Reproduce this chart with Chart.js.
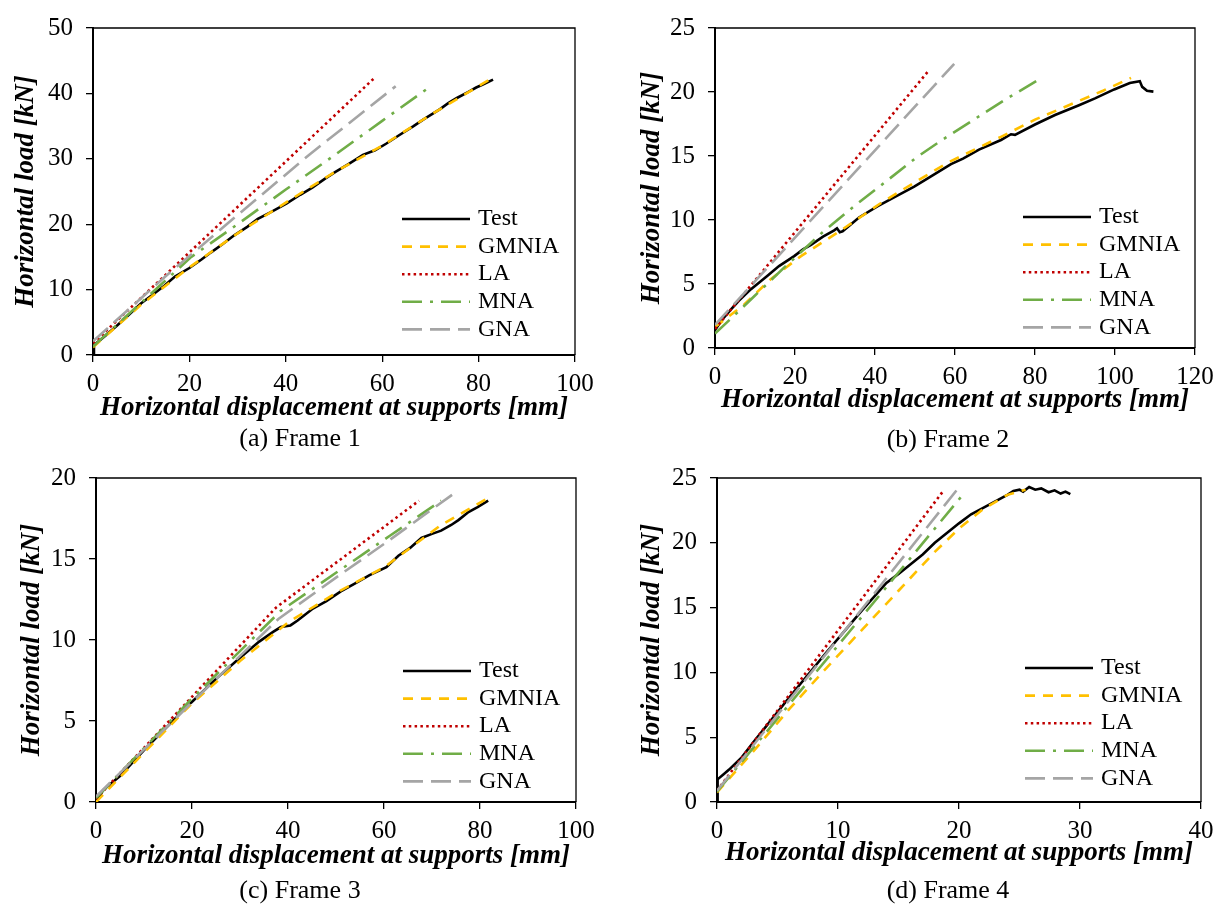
<!DOCTYPE html>
<html>
<head>
<meta charset="utf-8">
<script src="https://cdn.jsdelivr.net/npm/chart.js@4.4.1/dist/chart.umd.min.js"></script>
<style>
  body { margin: 0; background: #fff; width: 1221px; height: 905px; position: relative; overflow: hidden;
         font-family: 'Liberation Serif', 'Times New Roman', serif; }
  .panel { position: absolute; }
  .caption { position: absolute; font-size: 26px; color: #000; white-space: nowrap; transform: translate(-50%, -50%); }
</style>
</head>
<body>
<div class="panel" style="left:0;top:0;width:610px;height:450px"><canvas id="frame1"></canvas></div>
<div class="panel" style="left:610px;top:0;width:611px;height:450px"><canvas id="frame2"></canvas></div>
<div class="panel" style="left:0;top:450px;width:610px;height:455px"><canvas id="frame3"></canvas></div>
<div class="panel" style="left:610px;top:450px;width:611px;height:455px"><canvas id="frame4"></canvas></div>
<div class="caption" style="left:300px;top:438px">(a) Frame 1</div>
<div class="caption" style="left:948px;top:439px">(b) Frame 2</div>
<div class="caption" style="left:300px;top:890px">(c) Frame 3</div>
<div class="caption" style="left:948px;top:890px">(d) Frame 4</div>

<script>
/* ─────────────────────────────────────────────
   Load–displacement curves, Frames 1–4
   [x = displacement mm, y = load kN]
───────────────────────────────────────────── */

const SERIES_LABELS = ['Test', 'GMNIA', 'LA', 'MNA', 'GNA'];
const X_TITLE = 'Horizontal displacement at supports [mm]';
const Y_TITLE = 'Horizontal load [kN]';

// ── Frame 1 ─────────────────────────────────
const F1_TEST  = [[0,0],[0.2,1.5],[2.5,2.9],[5,4.5],[7.5,6.2],[10,7.9],[12.5,9.3],[14.8,10.6],[17,12.0],
                  [20,13.3],[22.5,14.6],[24.5,15.7],[27,17.0],[29.3,18.3],[32,19.6],[34.2,20.8],[37,21.9],
                  [40.2,23.2],[43,24.5],[45.5,25.6],[48,26.9],[50.3,28.0],[53,29.2],[56,30.6],[58.5,31.3],
                  [60.8,32.3],[63.5,33.6],[66.5,35.0],[68.5,36.0],[70.5,36.9],[72,37.6],[73.7,38.5],
                  [75.5,39.3],[77.8,40.2],[79.5,40.9],[81,41.4],[83,42.1]];
const F1_GMNIA = [[0,1.2],[10,7.7],[20,13.4],[30,18.6],[40,23.3],[50,27.9],[60,32.0],[70,36.7],[82,42.0]];
const F1_LA    = [[0,1.8],[58.3,42.3]];
const F1_MNA   = [[0,1.3],[10,8.0],[20.4,15.0],[30,20.0],[40,25.3],[50,30.5],[60,35.8],[70.1,41.1]];
const F1_GNA   = [[0,2.1],[15,12.0],[30,21.4],[45,30.7],[62.8,41.1]];

// ── Frame 2 ─────────────────────────────────
const F2_TEST  = [[0,1.4],[2,2.3],[4,3.02],[6,3.7],[9,4.6],[13.2,5.67],[16,6.4],[19.8,7.18],[22,7.7],
                  [24,8.06],[27,8.7],[29.8,9.19],[30.5,9.35],[31.2,9.05],[31.9,9.12],[33.2,9.45],[36,10.2],
                  [40.7,11.08],[45,11.8],[49.8,12.6],[54,13.4],[59,14.36],[62,14.8],[66,15.5],[71.5,16.25],
                  [74,16.7],[75,16.65],[80,17.46],[85,18.2],[91,18.97],[95,19.5],[99.8,20.2],[103.7,20.7],
                  [106.2,20.85],[106.8,20.4],[108,20.1],[109.6,20.03]];
const F2_GMNIA = [[0,1.64],[7.3,3.4],[14,5.4],[21.5,7.18],[31.5,9.19],[41.5,11.33],[50,12.95],[58.2,14.48],
                  [71.5,16.5],[80,17.84],[90,19.17],[97,20.1],[104,21.1]];
const F2_LA    = [[0,1.5],[53.4,21.66]];
const F2_MNA   = [[0,1.13],[5,2.6],[10,4.1],[17.75,6.42],[26.9,9.04],[34.8,11.08],[42.5,12.95],[50.25,14.86],
                  [56.5,16.2],[65,17.9],[72,19.3],[80.3,20.85]];
const F2_GNA   = [[0,1.8],[59.8,22.2]];

// ── Frame 3 ─────────────────────────────────
const F3_TEST  = [[0,0],[1.5,0.74],[5,1.6],[10,3.2],[15,4.7],[19.8,6.13],[25,7.6],[30,8.9],[34,9.9],[36.9,10.5],
                  [38.5,10.8],[40.5,10.9],[42,11.2],[45,11.9],[48,12.4],[51,13.0],[54,13.5],[57,14.0],
                  [60.5,14.5],[63,15.2],[65.5,15.7],[67.8,16.3],[70,16.55],[71.9,16.75],[74,17.1],
                  [75.5,17.4],[77.6,17.9],[79.5,18.2],[81.7,18.6]];
const F3_GMNIA = [[0,0],[19.8,6.03],[30,8.7],[40.1,11.1],[50,12.9],[60.1,14.5],[71.9,17.1],[82.5,18.9]];
const F3_LA    = [[0,0.2],[37.5,12.0],[67.3,18.6]];
const F3_MNA   = [[0,0.24],[19.8,6.33],[38.5,11.8],[50,14.15],[61.3,16.45],[71.9,18.6]];
const F3_GNA   = [[0,0.34],[20.6,6.33],[38,11.3],[50,13.85],[61.3,16.2],[75.3,19.2]];

// ── Frame 4 ─────────────────────────────────
const F4_TEST  = [[0,0],[0.05,1.75],[0.5,2.1],[1,2.5],[2,3.4],[3,4.6],[6,8.1],[9,11.5],[12,14.8],[14,16.9],
                  [15,17.6],[17,19.1],[18,20.0],[20,21.5],[21,22.2],[22,22.7],[23,23.2],[24,23.7],[24.5,24.0],
                  [25,24.1],[25.3,23.95],[25.8,24.3],[26.3,24.1],[26.8,24.2],[27.4,23.9],[27.9,24.05],
                  [28.4,23.8],[28.8,23.95],[29.2,23.75]];
const F4_GMNIA = [[0,0.75],[3,3.9],[6,7.2],[9,10.3],[12,13.3],[15,16.3],[18,19.3],[20,21.1],[22,22.6],
                  [24,23.7],[25.5,24.1]];
const F4_LA    = [[0,0.88],[18.7,24.0]];
const F4_MNA   = [[0,0.8],[20.4,23.8]];
const F4_GNA   = [[0,0.87],[19.84,24.1]];

// ── Axis ranges / ticks ─────────────────────
const X_MAX  = [100, 120, 100, 40];
const X_STEP = [20, 20, 20, 10];
const Y_MAX  = [50, 25, 20, 25];
const Y_STEP = [10, 5, 5, 5];

const FRAME_DATA = [
  [F1_TEST, F1_GMNIA, F1_LA, F1_MNA, F1_GNA],
  [F2_TEST, F2_GMNIA, F2_LA, F2_MNA, F2_GNA],
  [F3_TEST, F3_GMNIA, F3_LA, F3_MNA, F3_GNA],
  [F4_TEST, F4_GMNIA, F4_LA, F4_MNA, F4_GNA]
];

// ── Styles ──────────────────────────────────
const FONT = "'Liberation Serif', 'Times New Roman', serif";
const STYLES = [
  { color: '#000000', dash: [],            width: 2.6 },
  { color: '#FFC000', dash: [10, 8],       width: 2.6 },
  { color: '#C00000', dash: [2.5, 3.3],    width: 2.6 },
  { color: '#70AD47', dash: [20, 8, 3, 8], width: 2.6 },
  { color: '#A5A5A5', dash: [20, 8],       width: 2.6 }
];

// layout per panel (canvas px)
const LAYOUT = [
  { top: 17, right: 35, bottom: 25, yW: 93,  xTitlePad: 1, yTitlePad: 10, legR: 173, legB: 136 },
  { top: 17, right: 26, bottom: 32, yW: 105, xTitlePad: 2, yTitlePad: 26, legR: 172, legB: 131 },
  { top: 18, right: 34, bottom: 33, yW: 96,  xTitlePad: 0, yTitlePad: 16, legR: 173, legB: 131 },
  { top: 18, right: 20, bottom: 33, yW: 107, xTitlePad: 3, yTitlePad: 26, legR: 176, legB: 134 }
];

// ── Plugin: top/right frame + inset legend ──
const frameLegend = {
  id: 'frameLegend',
  afterDraw(chart, args, opts) {
    const { ctx, chartArea: a } = chart;
    ctx.save();
    ctx.strokeStyle = '#000';
    ctx.lineWidth = 1.3;
    ctx.setLineDash([]);
    ctx.beginPath();
    ctx.moveTo(a.left, a.top);
    ctx.lineTo(a.right, a.top);
    ctx.lineTo(a.right, a.bottom);
    ctx.stroke();

    const x0 = a.right - opts.legR;
    const y0 = a.bottom - opts.legB;
    ctx.font = `24px ${FONT}`;
    ctx.textBaseline = 'middle';
    ctx.textAlign = 'left';
    SERIES_LABELS.forEach((label, i) => {
      const y = y0 + i * 27.6;
      const st = STYLES[i];
      ctx.strokeStyle = st.color;
      ctx.lineWidth = st.width;
      ctx.setLineDash(st.dash);
      ctx.beginPath();
      ctx.moveTo(x0, y);
      ctx.lineTo(x0 + 68, y);
      ctx.stroke();
      ctx.fillStyle = '#000';
      ctx.fillText(label, x0 + 76, y);
    });
    ctx.restore();
  }
};

function buildChart(id, k) {
  const L = LAYOUT[k];
  const tickFont = { family: FONT, size: 25 };
  const titleFont = { family: FONT, size: 27, weight: 'bold', style: 'italic' };

  return new Chart(document.getElementById(id), {
    type: 'line',
    data: {
      datasets: FRAME_DATA[k].map((pts, i) => ({
        label: SERIES_LABELS[i],
        data: pts.map(p => ({ x: p[0], y: p[1] })),
        borderColor: STYLES[i].color,
        borderDash: STYLES[i].dash,
        borderWidth: STYLES[i].width,
        pointRadius: 0,
        tension: 0,
        fill: false,
        order: 5 - i
      }))
    },
    options: {
      responsive: true,
      maintainAspectRatio: false,
      animation: false,
      layout: { padding: { top: L.top, right: L.right, bottom: L.bottom, left: 0 } },
      plugins: {
        legend: { display: false },
        tooltip: { enabled: false },
        frameLegend: { legR: L.legR, legB: L.legB }
      },
      scales: {
        x: {
          type: 'linear',
          min: 0,
          max: X_MAX[k],
          ticks: { stepSize: X_STEP[k], font: tickFont, color: '#000', padding: 7, maxRotation: 0 },
          grid: { drawOnChartArea: false, drawTicks: true, tickLength: 7, color: '#000', lineWidth: 1.3 },
          border: { color: '#000', width: 2 },
          title: { display: true, text: X_TITLE, font: titleFont, color: '#000',
                   padding: { top: 0, bottom: L.xTitlePad } },
          afterFit(scale) { scale.height = 70; }
        },
        y: {
          min: 0,
          max: Y_MAX[k],
          ticks: { stepSize: Y_STEP[k], font: tickFont, color: '#000', padding: 13 },
          grid: { drawOnChartArea: false, drawTicks: true, tickLength: 7, color: '#000', lineWidth: 1.3 },
          border: { color: '#000', width: 2 },
          title: { display: true, text: Y_TITLE, font: titleFont, color: '#000',
                   padding: { top: L.yTitlePad, bottom: 0 } },
          afterFit(scale) { scale.width = L.yW; }
        }
      }
    },
    plugins: [frameLegend]
  });
}

window.addEventListener('DOMContentLoaded', () => {
  ['frame1', 'frame2', 'frame3', 'frame4'].forEach((id, k) => buildChart(id, k));
});
</script>
</body>
</html>
